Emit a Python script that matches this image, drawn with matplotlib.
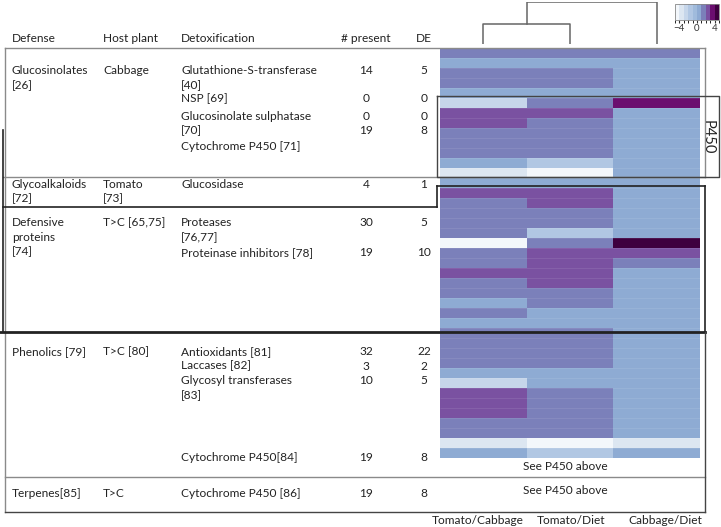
import numpy as np
import matplotlib
matplotlib.use("Agg")
from matplotlib import pyplot as plt
from matplotlib.colors import ListedColormap, BoundaryNorm

plt.rcParams['font.family'] = ['Lato', 'DejaVu Sans']

# ---- table data ----
headers = ["Defense", "Host plant", "Detoxification", "# present", "DE"]
defense = ["Glucosinolates\n[26]", "Glycoalkaloids\n[72]", "Defensive\nproteins\n[74]",
           "Phenolics [79]", "Terpenes[85]"]
host_plant = ["Cabbage", "Tomato\n[73]", "T>C [65,75]", "T>C [80]", "T>C"]
detox = ["Glutathione-S-transferase\n[40]", "NSP [69]", "Glucosinolate sulphatase\n[70]",
         "Cytochrome P450 [71]", "Glucosidase", "Proteases\n[76,77]",
         "Proteinase inhibitors [78]", "Antioxidants [81]", "Laccases [82]",
         "Glycosyl transferases\n[83]", "Cytochrome P450[84]", "Cytochrome P450 [86]"]
n_present = [14, 0, 0, 19, 4, 30, 19, 32, 3, 10, 19, 19]
n_de = [5, 0, 0, 8, 1, 5, 10, 22, 2, 5, 8, 8]

# ---- heatmap data (log fold change, one value per gene) ----
comparisons = ["Tomato/Cabbage", "Tomato/Diet", "Cabbage/Diet"]
tomato_cabbage = [1.5, 0.5, 1.5, 1.5, 0.5, -2.5, 2.5, 2.5, 1.5, 1.5, 1.5, 0.5, -3.5, 0.5,
                  2.5, 1.5, 1.5, 1.5, 1.5, -4.5, 1.5, 1.5, 2.5, 1.5, 1.5, 0.5, 1.5, 0.5,
                  1.5, 1.5, 1.5, 1.5, 0.5, -2.5, 2.5, 2.5, 2.5, 1.5, 1.5, -3.5, 0.5]
tomato_diet = [1.5, 0.5, 1.5, 1.5, 0.5, 1.5, 2.5, 1.5, 1.5, 1.5, 1.5, -1.5, -4.5, 0.5,
               2.5, 2.5, 1.5, 1.5, -1.5, 1.5, 2.5, 2.5, 2.5, 2.5, 1.5, 1.5, 0.5, 0.5,
               1.5, 1.5, 1.5, 1.5, 0.5, 0.5, 1.5, 1.5, 1.5, 1.5, 1.5, -4.5, -1.5]
cabbage_diet = [1.5, 0.5, 0.5, 0.5, 0.5, 3.5, 0.5, 0.5, 0.5, 0.5, 0.5, 0.5, 0.5, 0.5,
                0.5, 0.5, 0.5, 0.5, 0.5, 4.5, 2.5, 1.5, 0.5, 0.5, 0.5, 0.5, 0.5, 0.5,
                0.5, 0.5, 0.5, 0.5, 0.5, 0.5, 0.5, 0.5, 0.5, 0.5, 0.5, -3.5, 0.5]
# column dendrogram: merge heights (Tomato/Cabbage+Tomato/Diet, then +Cabbage/Diet)
merge_heights = [0.93, 2.0]

# ---- layout (pixels) ----
W, H = 721, 527
col_x = [12, 103, 181]
present_x, de_x = 366, 424
header_y = 39
defense_y = [71, 184.5, 222.7, 351.7, 493.3]
detox_y = [71, 99, 116, 146, 184.5, 222.7, 252.7, 351.7, 366, 381, 457.3, 493.3]
count_y = [71, 99, 116, 130, 184.5, 222.7, 252.7, 351.7, 366, 381, 457.3, 493.3]
line_step = 14.5
fs = 8.6
tcol = '#222222'

fig = plt.figure(figsize=(W / 100, H / 100), dpi=100)

def px_axes(x0, y0, x1, y1):
    return fig.add_axes([x0 / W, 1 - y1 / H, (x1 - x0) / W, (y1 - y0) / H])

# heatmap
colors = ['#f3f7fb', '#dce6f1', '#c6d6ea', '#b1c7e3', '#a0bbdc',
          '#8eabd3', '#7b80ba', '#7a51a1', '#6b0e6f', '#3e003f']
cmap = ListedColormap(colors)
norm = BoundaryNorm(np.arange(-5, 6), cmap.N)
data = np.column_stack([tomato_cabbage, tomato_diet, cabbage_diet])
hax = px_axes(440, 48.3, 700, 457.7)
hax.pcolormesh(data, cmap=cmap, norm=norm)
hax.hlines(np.arange(1, len(data)), 0, 3, colors='white', alpha=0.12, lw=0.5)
hax.set_xlim(0, 3)
hax.set_ylim(len(data), 0)
hax.axis('off')

# dendrogram
dax = px_axes(440, 1.5, 700, 43.5)
h1, h2 = merge_heights
leaves = np.arange(len(comparisons)) + 0.5
mid = (leaves[0] + leaves[1]) / 2
dkw = dict(color='#666666', lw=1.1)
dax.plot([leaves[0], leaves[0], leaves[1], leaves[1]], [0, h1, h1, 0], **dkw)
dax.plot([mid, mid, leaves[2], leaves[2]], [h1, h2, h2, 0], **dkw)
dax.set_xlim(0, 3)
dax.set_ylim(0, h2)
dax.axis('off')

# colorbar
cax = px_axes(675, 4, 719, 20)
sm = plt.cm.ScalarMappable(cmap=cmap, norm=norm)
cb = fig.colorbar(sm, cax=cax, orientation='horizontal', ticks=[-4, 0, 4])
cb.ax.tick_params(labelsize=7, length=2, pad=1, colors='#333333')
cb.ax.set_xticklabels(['\u22124', '0', '4'])
cb.outline.set_edgecolor('#888888')
cb.outline.set_linewidth(0.6)

# overlay for table text and lines
ax = fig.add_axes([0, 0, 1, 1], zorder=5)
ax.set_xlim(0, W)
ax.set_ylim(H, 0)
ax.axis('off')
ax.patch.set_alpha(0)

def put(x, y, s, ha='left'):
    for i, line in enumerate(s.split('\n')):
        ax.text(x, y + i * line_step, line, ha=ha, va='center', fontsize=fs, color=tcol)

for x, s in zip(col_x, headers[:3]):
    put(x, header_y, s)
put(present_x, header_y, headers[3], ha='center')
put(de_x, header_y, headers[4], ha='center')

for y, d, h in zip(defense_y, defense, host_plant):
    put(col_x[0], y, d)
    put(col_x[1], y, h)
for y, s in zip(detox_y, detox):
    put(col_x[2], y, s)
for y, p, d in zip(count_y, n_present, n_de):
    put(present_x, y, str(p), ha='center')
    put(de_x, y, str(d), ha='center')

put(565, 466.7, "See P450 above", ha='center')
put(565, 491, "See P450 above", ha='center')
label_x = [478, 571.5, 665]
for x, c in zip(label_x, comparisons):
    put(x, 520.5, c, ha='center')

# table lines
g = dict(color='#8a8a8a', lw=1.0)
k = dict(color='#222222', lw=1.2)
ax.plot([5, 705], [48.3, 48.3], **g)
ax.plot([5, 5], [48.3, 511.7], **g)
ax.plot([705, 705], [48.3, 176.7], **g)
ax.plot([3, 705], [176.7, 176.7], **g)
ax.plot([3, 3], [130, 332], **k)
ax.plot([3, 437], [206.7, 206.7], **k)
ax.plot([437, 437], [185.7, 206.7], **k)
ax.plot([437, 705], [185.7, 185.7], **k)
ax.plot([705, 705], [185.7, 332], **k)
ax.plot([0, 705], [332, 332], color='#222222', lw=2)
ax.plot([437, 719, 719, 437, 437], [96, 96, 176.7, 176.7, 96], color='#444444', lw=1.0)
ax.text(708, 137, "P450", rotation=-90, ha='center', va='center', fontsize=10.5, color=tcol)
ax.plot([5, 705], [476.5, 476.5], **g)
ax.plot([705, 705], [332, 511.7], color='#444444', lw=1.0)
ax.plot([5, 705], [511.7, 511.7], color='#444444', lw=1.0)

fig.savefig("out.png", dpi=100)
